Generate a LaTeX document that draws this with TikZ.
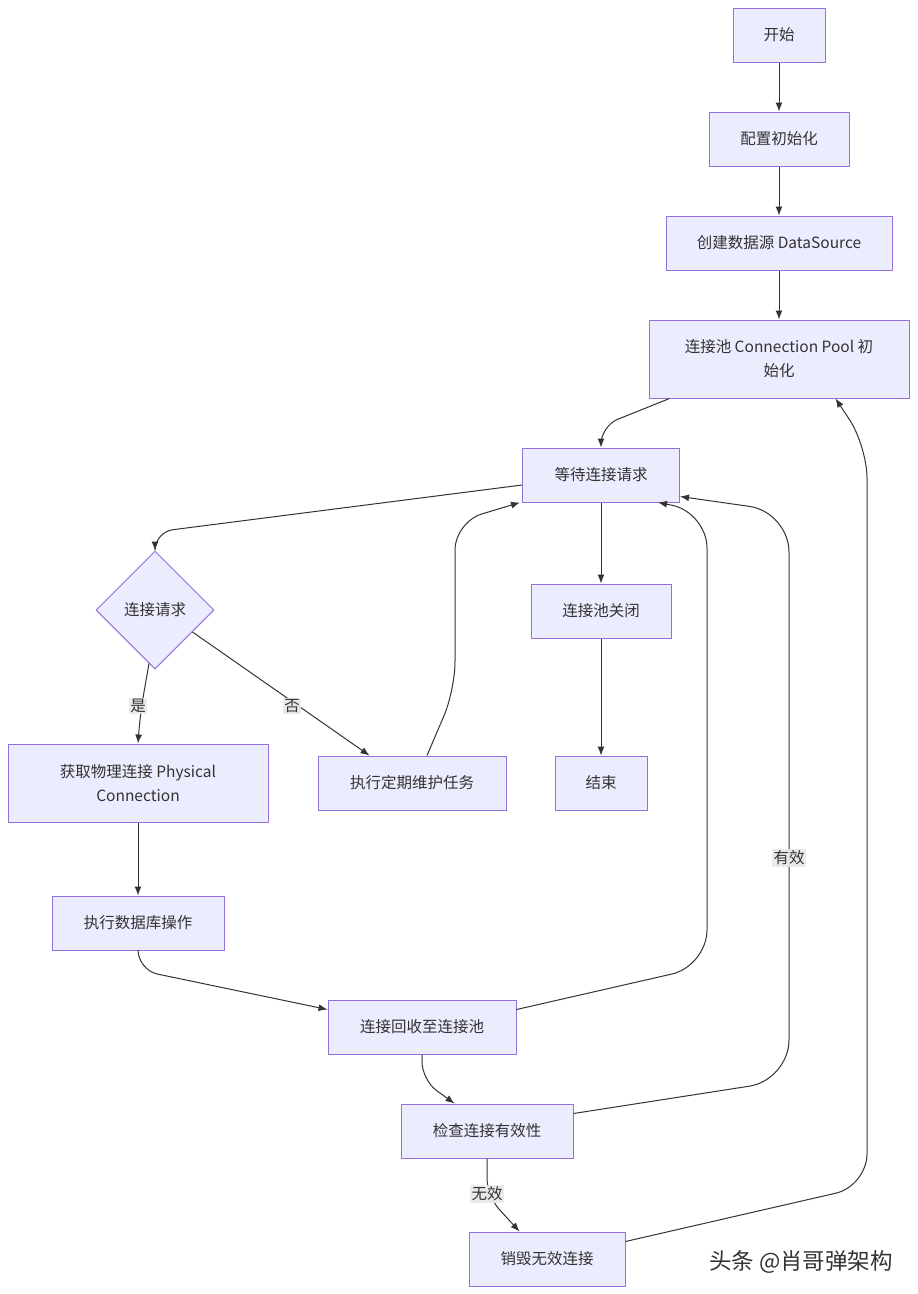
\documentclass[tikz,border=0pt]{standalone}
\usepackage{fontspec}
\setmainfont{Noto Sans CJK SC}
\usetikzlibrary{arrows.meta,shapes.geometric,calc}
\definecolor{boxfill}{HTML}{ECECFF}
\definecolor{boxline}{HTML}{9370DB}
\definecolor{edgeline}{HTML}{333333}
\definecolor{lblfill}{HTML}{E8E8E8}

\tikzset{
  proc/.style={draw=boxline, fill=boxfill, line width=1pt, minimum height=54,
    inner sep=0pt, text=edgeline, align=center,
    font=\fontsize{15.5}{24}\selectfont},
  decide/.style={proc, diamond, shape aspect=1, minimum width=118, minimum height=118},
  flow/.style={draw=edgeline, line width=1pt, -{Latex[length=9pt,width=7pt]}},
  lbl/.style={fill=lblfill, fill opacity=0.9, text opacity=1, text=edgeline,
    inner sep=1.5pt, font=\fontsize{15.5}{18}\selectfont}
}

\begin{document}
\begin{tikzpicture}[x=1pt,y=-1pt]
    \fill[white] (0,0) rectangle (918,1294);
    \useasboundingbox (0,0) rectangle (918,1294);

    % main column
    \node[proc, minimum width=92] (start) at (779,35) {开始};
    \node[proc, minimum width=140] (init) at (779,139) {配置初始化};
    \node[proc, minimum width=226] (source) at (779,243) {创建数据源 DataSource};
    \node[proc, minimum width=260, minimum height=78] (pool) at (779,359) {连接池 Connection Pool 初\\始化};
    \node[proc, minimum width=157] (wait) at (601,475) {等待连接请求};
    \node[decide] (request) at (155,610) {连接请求};
    \node[proc, minimum width=140] (close) at (601,611) {连接池关闭};
    \node[proc, minimum width=260, minimum height=78] (phys) at (138,783) {获取物理连接 Physical\\Connection};
    \node[proc, minimum width=188] (maint) at (412,783) {执行定期维护任务};
    \node[proc, minimum width=92] (end) at (601,783) {结束};
    \node[proc, minimum width=172] (dbop) at (138,923) {执行数据库操作};
    \node[proc, minimum width=188] (recycle) at (422,1027) {连接回收至连接池};
    \node[proc, minimum width=172] (check) at (487,1131) {检查连接有效性};
    \node[proc, minimum width=156] (destroy) at (547,1259) {销毁无效连接};

    % straight links
    \draw[flow] (start) -- (init);
    \draw[flow] (init) -- (source);
    \draw[flow] (source) -- (pool);
    \draw[flow] (wait) -- (close);
    \draw[flow] (close) -- (end);
    \draw[flow] (phys) -- (dbop);

    % curved links
    \draw[flow, rounded corners=18pt] ($(pool.south west)+(21,0)$) -- (601,426) -- (wait.north);
    \draw[flow, rounded corners=18pt] ($(wait.west)+(0,10)$) -- (155,532) -- (request.north);
    \draw[flow, rounded corners=20pt] ($(request.south)+(-6,-6)$) -- (140,715) -- (phys.north);
    \draw[flow] ($(request.east)+(-22,22)$) -- ($(maint.north west)+(52,0)$);
    \draw[flow, rounded corners=28pt] ($(maint.north)+(15,0)$) -- (455,690) -- (455,522) -- ($(wait.south west)+(-2,0)$);
    \draw[flow, rounded corners=20pt] (dbop.south) -- (138,970) -- ($(recycle.north west)+(0,10)$);
    \draw[flow, rounded corners=36pt] ($(recycle.north east)+(0,10)$) -- (707,966) -- (707,512) -- ($(wait.south east)+(-22,0)$);
    \draw[flow, rounded corners=18pt] (recycle.south) -- (422,1080) -- ($(check.north west)+(54,0)$);
    \draw[flow, rounded corners=40pt] ($(check.north east)+(0,10)$) -- (789,1080) -- (789,512) -- ($(wait.south east)+(0,-6)$);
    \draw[flow, rounded corners=18pt] (check.south) -- (487,1196) -- ($(destroy.north west)+(51,0)$);
    \draw[flow, rounded corners=32pt] ($(destroy.north east)+(0,10)$) -- (867,1186) -- (867,446) -- ($(pool.south east)+(-74,0)$);

    % edge labels
    \node[lbl] (yes) at (138,706) {是};
    \node[lbl] (no) at (292,706) {否};
    \node[lbl] (valid) at (789,858) {有效};
    \node[lbl] (invalid) at (487,1194) {无效};

    \node[text=edgeline, font=\fontsize{22.5}{26}\selectfont] (mark) at (801,1262) {头条 @肖哥弹架构};
\end{tikzpicture}
\end{document}
